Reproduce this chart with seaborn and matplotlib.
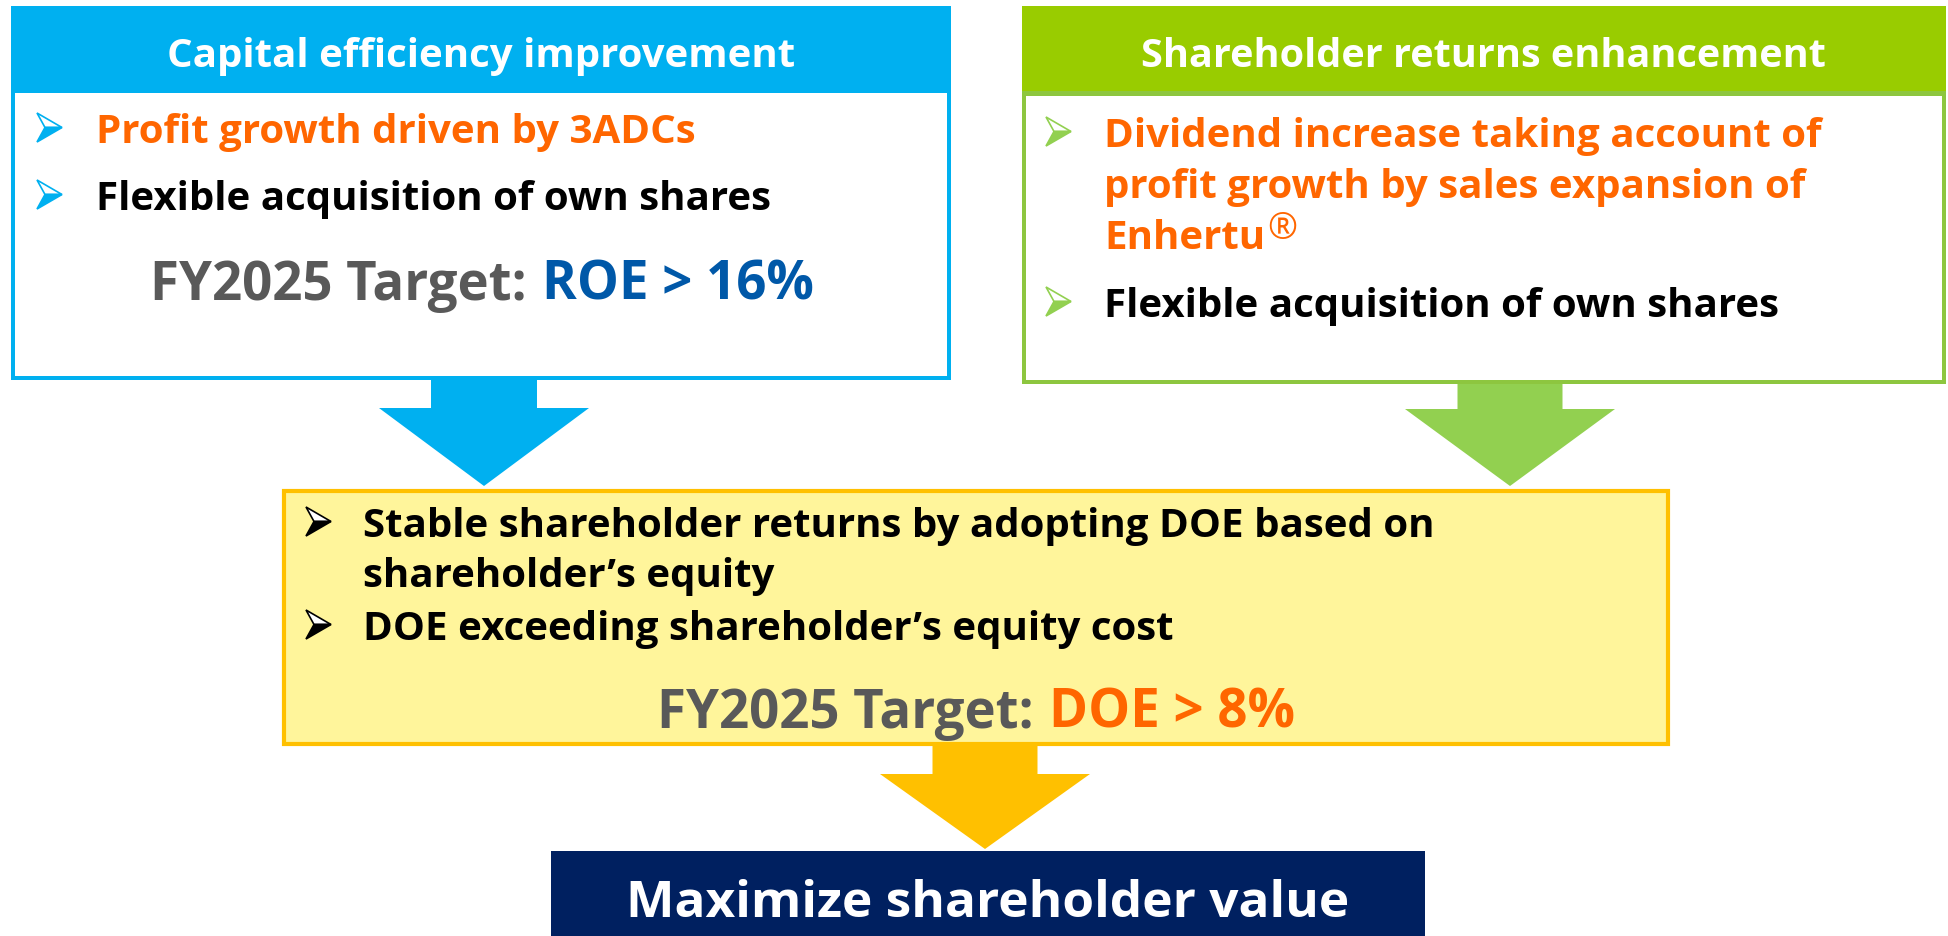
import matplotlib
matplotlib.use("Agg")
import matplotlib.pyplot as plt
import matplotlib.patches as mpatches
import seaborn as sns

sns.set_theme(style="white")
plt.rcParams['font.family'] = ['Open Sans', 'DejaVu Sans']

# -----------------------------
# Content
# -----------------------------
left_title = "Capital efficiency improvement"
left_bullets = ["Profit growth driven by 3ADCs", "Flexible acquisition of own shares"]
left_bullet_colors = ["#FF6600", "#000000"]
left_target = ["FY2025 Target:", "ROE > 16%"]

right_title = "Shareholder returns enhancement"
right_lines = ["Dividend increase taking account of",
               "profit growth by sales expansion of",
               "Enhertu",
               "Flexible acquisition of own shares"]
right_line_colors = ["#FF6600", "#FF6600", "#FF6600", "#000000"]
right_bullet_rows = [0, 3]

mid_lines = ["Stable shareholder returns by adopting DOE based on",
             "shareholder\u2019s equity",
             "DOE exceeding shareholder\u2019s equity cost"]
mid_bullet_rows = [0, 2]
mid_target = ["FY2025 Target:", "DOE > 8%"]

goal = "Maximize shareholder value"

# colours
BLUE = "#00B0F0"
GREEN_HEAD = "#99CC00"
GREEN = "#92D050"
YELLOW_FILL = "#FFF59B"
GOLD = "#FFC000"
NAVY = "#002060"
ORANGE = "#FF6600"
GRAY = "#595959"
ROE_BLUE = "#0058A8"

W, H = 1949, 937
fig = plt.figure(figsize=(W / 100, H / 100), dpi=100)
ax = fig.add_axes([0, 0, 1, 1])
ax.set_xlim(0, W)
ax.set_ylim(H, 0)
ax.axis("off")
renderer = fig.canvas.get_renderer()


def rect(x0, y0, x1, y1, fc, ec="none", lw=0):
    ax.add_patch(mpatches.Rectangle((x0, y0), x1 - x0, y1 - y0, facecolor=fc,
                                    edgecolor=ec, linewidth=lw))


def down_arrow(cx, y0, y1, y2, shaft_w, head_w, color):
    pts = [(cx - shaft_w / 2, y0), (cx + shaft_w / 2, y0), (cx + shaft_w / 2, y1),
           (cx + head_w / 2, y1), (cx, y2), (cx - head_w / 2, y1), (cx - shaft_w / 2, y1)]
    ax.add_patch(mpatches.Polygon(pts, closed=True, facecolor=color, edgecolor="none"))


def runs(x, y, parts, size, center=False, gap=0.28):
    # parts: (text, colour); drawn one after another on one baseline
    drawn = []
    cur = x
    for i, (s, col) in enumerate(parts):
        t = ax.text(cur, y, s, color=col, fontsize=size, fontweight="bold",
                    va="baseline", ha="left")
        cur += t.get_window_extent(renderer).width
        if i < len(parts) - 1:
            cur += gap * size * 100 / 72
        drawn.append(t)
    if center:
        shift = (cur - x) / 2
        for t in drawn:
            t.set_x(t.get_position()[0] - shift)
    return cur


def bullet(x, y, color, light="white"):
    # 3-D style arrowhead sitting on the text baseline
    w, h = 25, 29
    yc = y - h / 2
    ax.add_patch(mpatches.Polygon([(x, y - h), (x + w, yc), (x + 0.32 * w, yc)],
                                  closed=True, facecolor=light, edgecolor=color, linewidth=1.2))
    ax.add_patch(mpatches.Polygon([(x + 0.32 * w, yc), (x + w, yc), (x, y)],
                                  closed=True, facecolor=color, edgecolor=color, linewidth=1.2))


BODY = 29
TARGET = 38

# -----------------------------
# Left box
# -----------------------------
rect(11, 7, 951, 381, BLUE)
rect(15, 94, 947, 377, "white")
ax.text(481, 67, left_title, color="white", fontsize=29, fontweight="bold",
        ha="center", va="baseline")
for i, (s, c) in enumerate(zip(left_bullets, left_bullet_colors)):
    yb = 143 + i * 67
    bullet(37, yb, BLUE)
    ax.text(96, yb, s, color=c, fontsize=BODY, fontweight="bold", va="baseline")
runs(482, 300, [(left_target[0], GRAY), (left_target[1], ROE_BLUE)], TARGET, center=True)

# -----------------------------
# Right box
# -----------------------------
rect(1022, 7, 1946, 385, "#8DC63F")
rect(1022, 7, 1946, 92, GREEN_HEAD)
rect(1026, 97, 1942, 381, "white")
ax.text(1483, 67, right_title, color="white", fontsize=28.5, fontweight="bold",
        ha="center", va="baseline")
right_y = [147, 198, 249, 317]
for i, (s, c) in enumerate(zip(right_lines, right_line_colors)):
    if i in right_bullet_rows:
        bullet(1046, right_y[i], GREEN)
    end = runs(1104, right_y[i], [(s, c)], BODY)
    if s == "Enhertu":
        ax.text(end + 2, right_y[i] - 10, "\u00ae", color=ORANGE, fontsize=26,
                fontweight="normal", va="baseline", ha="left")

# -----------------------------
# Arrows
# -----------------------------
down_arrow(484, 381, 409, 487, 106, 210, BLUE)
down_arrow(1510, 385, 410, 487, 105, 210, GREEN)

# -----------------------------
# Middle box
# -----------------------------
rect(284, 492, 1668, 745, YELLOW_FILL, ec=GOLD, lw=3)
mid_y = [537, 587, 640]
for i, s in enumerate(mid_lines):
    if i in mid_bullet_rows:
        bullet(306, mid_y[i], "#000000")
    ax.text(363, mid_y[i], s, color="black", fontsize=BODY, fontweight="bold", va="baseline")
runs(976, 728, [(mid_target[0], GRAY), (mid_target[1], ORANGE)], TARGET, center=True)

down_arrow(985, 745, 775, 850, 105, 210, GOLD)

# -----------------------------
# Goal
# -----------------------------
rect(551, 852, 1425, 945, NAVY)
ax.text(988, 917, goal, color="white", fontsize=37, fontweight="bold",
        ha="center", va="baseline")

fig.savefig("out.png", dpi=100)
